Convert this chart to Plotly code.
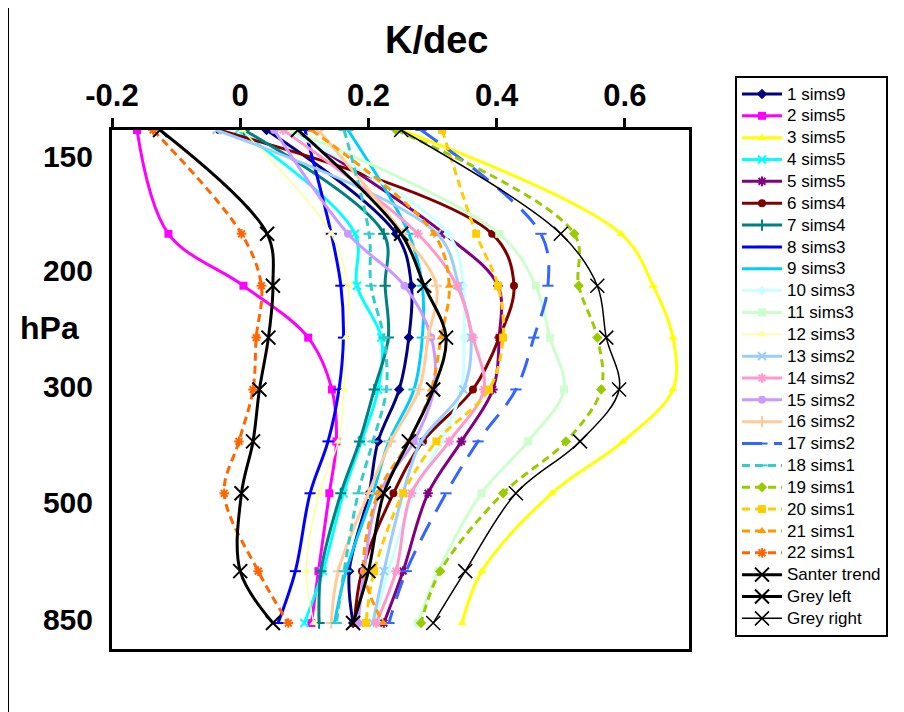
import plotly.graph_objects as go

# vertical level coordinate of each data row (top = 100 hPa row)
level_y = [0, 2, 3, 4, 5, 6, 7, 8.5, 9.5]

# y-axis label positions / texts
y_tick_pos = [0.52, 2.70, 4.95, 7.17, 9.44]
y_tick_text = ["150", "200", "300", "500", "850"]
x_tick_vals = [-0.2, 0, 0.2, 0.4, 0.6]
x_tick_text = ["-0.2", "0", "0.2", "0.4", "0.6"]

names = ["1 sims9", "2 sims5", "3 sims5", "4 sims5", "5 sims5", "6 sims4", "7 sims4",
         "8 sims3", "9 sims3", "10 sims3", "11 sims3", "12 sims3", "13 sims2", "14 sims2",
         "15 sims2", "16 sims2", "17 sims2", "18 sims1", "19 sims1", "20 sims1", "21 sims1",
         "22 sims1", "Santer trend", "Grey left", "Grey right"]

s1 = [0.041, 0.243, 0.267, 0.263, 0.248, 0.215, 0.201, 0.170, 0.176]
s2 = [-0.161, -0.112, 0.005, 0.106, 0.143, 0.150, 0.139, 0.122, 0.111]
s3 = [0.251, 0.594, 0.644, 0.675, 0.675, 0.597, 0.486, 0.377, 0.346]
s4 = [-0.003, 0.179, 0.182, 0.220, 0.215, 0.189, 0.161, 0.129, 0.100]
s5 = [0.080, 0.318, 0.402, 0.404, 0.394, 0.345, 0.293, 0.254, 0.224]
s6 = [-0.033, 0.393, 0.427, 0.404, 0.363, 0.285, 0.239, 0.190, 0.178]
s7 = [0.006, 0.224, 0.226, 0.231, 0.209, 0.186, 0.157, 0.126, 0.123]
s8 = [0.101, 0.142, 0.157, 0.161, 0.154, 0.137, 0.109, 0.086, 0.059]
s9 = [0.168, 0.263, 0.284, 0.284, 0.271, 0.232, 0.207, 0.165, 0.147]
s10 = [0.072, 0.324, 0.348, 0.349, 0.345, 0.313, 0.271, 0.231, 0.209]
s11 = [0.080, 0.404, 0.461, 0.483, 0.505, 0.449, 0.376, 0.309, 0.277]
s12 = [0.003, 0.142, 0.168, 0.165, 0.162, 0.153, 0.123, 0.103, 0.115]
s13 = [-0.037, 0.307, 0.341, 0.360, 0.348, 0.282, 0.254, 0.224, 0.207]
s14 = [0.067, 0.277, 0.338, 0.363, 0.380, 0.326, 0.267, 0.243, 0.212]
s15 = [0.053, 0.168, 0.256, 0.298, 0.302, 0.271, 0.217, 0.193, 0.184]
s16 = [0.122, 0.254, 0.306, 0.293, 0.279, 0.235, 0.200, 0.153, 0.142]
s17 = [0.282, 0.469, 0.480, 0.458, 0.430, 0.371, 0.321, 0.259, 0.232]
s18 = [0.162, 0.201, 0.204, 0.224, 0.228, 0.207, 0.184, 0.162, 0.150]
s19 = [0.243, 0.521, 0.528, 0.557, 0.563, 0.508, 0.410, 0.312, 0.282]
s20 = [0.315, 0.368, 0.402, 0.410, 0.388, 0.306, 0.254, 0.209, 0.196]
s21 = [0.111, 0.302, 0.326, 0.313, 0.298, 0.263, 0.215, 0.193, 0.223]
s22 = [-0.136, 0.002, 0.033, 0.025, 0.020, -0.002, -0.025, 0.028, 0.075]
santer = [0.090, 0.251, 0.287, 0.321, 0.301, 0.263, 0.224, 0.200, 0.176]
grey_left = [-0.125, 0.042, 0.051, 0.044, 0.030, 0.020, 0.002, 0.000, 0.051]
grey_right = [0.251, 0.500, 0.557, 0.571, 0.591, 0.530, 0.430, 0.351, 0.301]

series = [s1, s2, s3, s4, s5, s6, s7, s8, s9, s10, s11, s12, s13, s14, s15, s16,
          s17, s18, s19, s20, s21, s22, santer, grey_left, grey_right]

colors = ["#000080", "#FF00FF", "#FFFF00", "#00FFFF", "#800080", "#800000", "#008080",
          "#0000FF", "#00CCFF", "#CCFFFF", "#CCFFCC", "#FFFF99", "#99CCFF", "#FF99CC",
          "#CC99FF", "#FFCC99", "#3366FF", "#33CCCC", "#99CC00", "#FFCC00", "#FF9900",
          "#FF6600", "#000000", "#000000", "#000000"]

symbols = ["diamond", "square", "triangle-up", "x-thin", "asterisk", "circle", "cross-thin",
           "line-ew", "line-ew", "diamond", "square", "triangle-up", "x-thin", "asterisk",
           "circle", "cross-thin", "line-ew", "line-ew", "diamond", "square", "triangle-up",
           "asterisk", "x-thin", "x-thin", "x-thin"]

widths = [3, 3, 3, 3, 3, 3, 3, 3, 3, 3, 3, 1.5, 3, 3, 3, 3, 3, 3, 3, 3, 3, 3, 3, 3, 1.5]
dashes = ["solid"] * 16 + ["20px,12px"] + ["8px,5px"] * 5 + ["solid"] * 3

thin_syms = {"x-thin", "asterisk", "cross-thin", "line-ew"}

fig = go.Figure()
for i, (nm, xs) in enumerate(zip(names, series)):
    sym = symbols[i]
    c = colors[i]
    if sym in thin_syms:
        size = 14 if i >= 22 else 8
        mk = dict(symbol=sym, size=size, color=c,
                  line=dict(color=c, width=(1.5 if i == 24 else 2)))
    else:
        mk = dict(symbol=sym, size=8, color=c, line=dict(width=0))
    fig.add_trace(go.Scatter(
        x=xs, y=level_y, name='<span style="font-size:17px">' + nm + '</span>',
        mode="lines+markers",
        line=dict(color=c, width=widths[i], dash=dashes[i], shape="spline", smoothing=1),
        marker=mk,
    ))

FONT = "Liberation Sans, Arial, sans-serif"

fig.update_layout(
    width=904, height=712,
    margin=dict(l=104, r=223, t=122, b=71, autoexpand=False),
    paper_bgcolor="white", plot_bgcolor="white",
    font=dict(family=FONT, color="black"),
    showlegend=True,
    legend=dict(
        x=1.0797, y=1.104, xanchor="left", yanchor="top",
        bgcolor="white", bordercolor="black", borderwidth=2,
        font=dict(family=FONT, size=14.5, color="black"),
        itemwidth=40, tracegroupgap=0, maxheight=700,
    ),
    xaxis=dict(
        side="top", range=[-0.2, 0.7], tickvals=x_tick_vals, ticktext=x_tick_text,
        ticks="outside", ticklen=9, tickwidth=3, tickcolor="black",
        showline=True, linewidth=3, linecolor="black", mirror=True,
        showgrid=False, zeroline=False,
        tickfont=dict(family=FONT, size=31, weight="bold", color="black"),
    ),
    yaxis=dict(
        range=[10, 0], tickvals=y_tick_pos, ticktext=y_tick_text,
        ticks="", showline=True, linewidth=3, linecolor="black", mirror=True,
        showgrid=False, zeroline=False, ticklabelstandoff=10,
        tickfont=dict(family=FONT, size=30, weight="bold", color="black"),
    ),
    annotations=[
        dict(text="K/dec", xref="paper", yref="paper", x=0.563, y=1.1734,
             xanchor="center", yanchor="middle", showarrow=False,
             font=dict(family=FONT, size=38, weight="bold", color="black")),
        dict(text="hPa", xref="paper", yref="y", x=0, y=3.81, xshift=-94,
             xanchor="left", yanchor="middle", showarrow=False,
             font=dict(family=FONT, size=32, weight="bold", color="black")),
    ],
    shapes=[
        dict(type="line", xref="paper", yref="paper",
             x0=-0.1802, x1=-0.1802, y0=-0.16, y1=1.26,
             line=dict(color="black", width=2)),
    ],
)

fig.write_html("out.html")
